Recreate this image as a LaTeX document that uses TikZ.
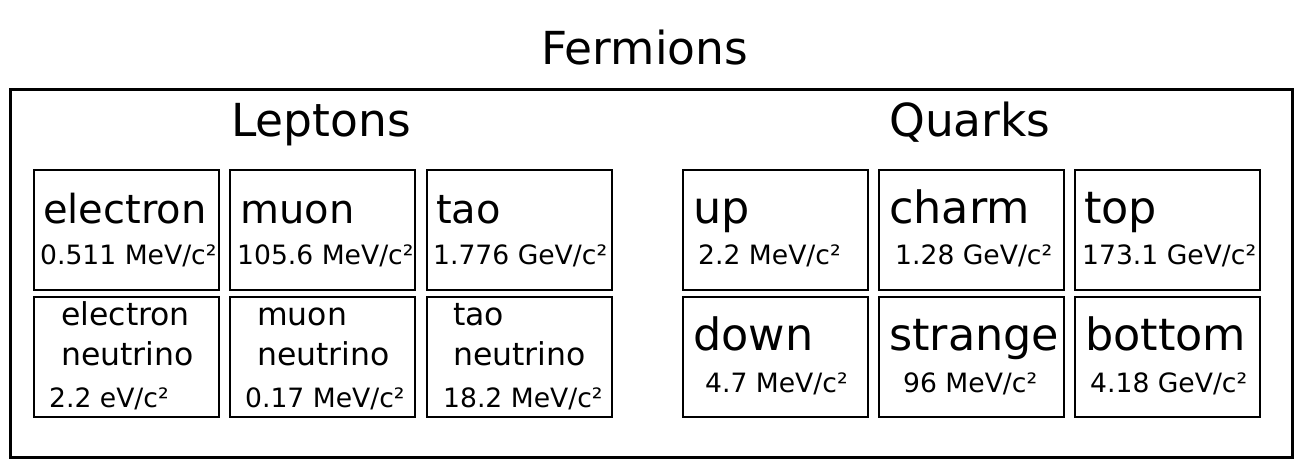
\documentclass[tikz,border=0pt]{standalone}
\usepackage{fontspec}
\setmainfont{DejaVu Sans}
\newcommand{\fsz}[1]{\fontsize{#1}{#1}\selectfont}
\begin{document}
\begin{tikzpicture}[x=1pt,y=-1pt,
  partbox/.style={draw, line width=2pt, minimum width=185pt, minimum height=120pt, inner sep=0pt},
  frame/.style={draw, line width=3pt},
  txt/.style={anchor=base west, inner sep=0pt},
  head/.style={txt, font=\fsz{45.5}},
  lname/.style={txt, font=\fsz{40}},
  qname/.style={txt, font=\fsz{44.5}},
  nname/.style={txt, font=\fsz{31.5}},
  mass/.style={txt, font=\fsz{26.6}}]
\useasboundingbox (0,0) rectangle (1301,473);
% titles
\node[head] (fer) at (541,65) {Fermions};
\draw[frame] (10,90) rectangle (1292,457);
\node[head] (lep) at (231,137) {Leptons};
\node[head] (qua) at (889,137) {Quarks};
% boxes
\node[partbox] (b11) at (126.5,230) {};
\node[partbox] (b12) at (322.5,230) {};
\node[partbox] (b13) at (519.5,230) {};
\node[partbox] (b14) at (775.5,230) {};
\node[partbox] (b15) at (971.5,230) {};
\node[partbox] (b16) at (1167.5,230) {};
\node[partbox] (b21) at (126.5,357) {};
\node[partbox] (b22) at (322.5,357) {};
\node[partbox] (b23) at (519.5,357) {};
\node[partbox] (b24) at (775.5,357) {};
\node[partbox] (b25) at (971.5,357) {};
\node[partbox] (b26) at (1167.5,357) {};
% leptons row 1
\node[lname] (t11) at (43,223) {electron};
\node[mass] (m11) at (40,264) {0.511 MeV/c²};
\node[lname] (t12) at (240,223) {muon};
\node[mass] (m12) at (237,264) {105.6 MeV/c²};
\node[lname] (t13) at (436,223) {tao};
\node[mass] (m13) at (433,264) {1.776 GeV/c²};
% neutrinos
\node[nname] (t21) at (61,325) {electron};
\node[nname] (u21) at (61,365) {neutrino};
\node[mass] (m21) at (49,407) {2.2 eV/c²};
\node[nname] (t22) at (257,325) {muon};
\node[nname] (u22) at (257,365) {neutrino};
\node[mass] (m22) at (245,407) {0.17 MeV/c²};
\node[nname] (t23) at (453,325) {tao};
\node[nname] (u23) at (453,365) {neutrino};
\node[mass] (m23) at (443,407) {18.2 MeV/c²};
% quarks
\node[qname] (t14) at (693,223) {up};
\node[mass] (m14) at (698,264) {2.2 MeV/c²};
\node[qname] (t15) at (889,223) {charm};
\node[mass] (m15) at (895,264) {1.28 GeV/c²};
\node[qname] (t16) at (1084,223) {top};
\node[mass] (m16) at (1082,264) {173.1 GeV/c²};
\node[qname] (t24) at (693,350) {down};
\node[mass] (m24) at (705,392) {4.7 MeV/c²};
\node[qname] (t25) at (889,350) {strange};
\node[mass] (m25) at (903,392) {96 MeV/c²};
\node[qname] (t26) at (1085,350) {bottom};
\node[mass] (m26) at (1090,392) {4.18 GeV/c²};
\end{tikzpicture}
\end{document}
